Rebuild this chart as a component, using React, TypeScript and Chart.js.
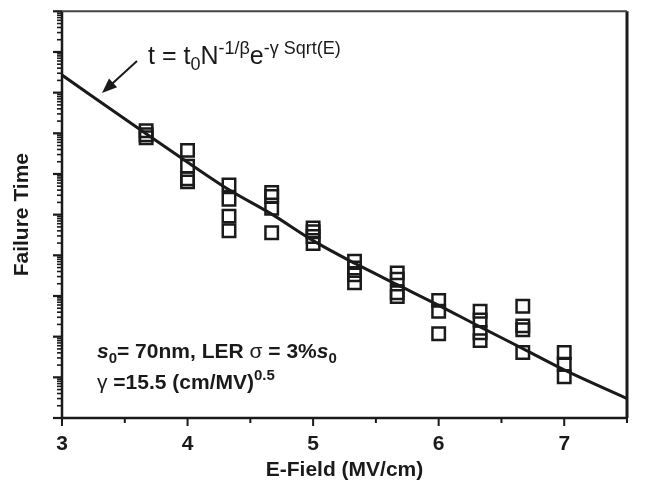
import React, { useEffect, useRef } from "react";
import { Chart, registerables } from "chart.js";

Chart.register(...registerables);

// E-field columns (MV/cm) of measured failures
const fieldCols = [3.67, 4, 4.33, 4.67, 5, 5.33, 5.67, 6, 6.33, 6.67, 7];
// Failure times measured at each column (arbitrary units, log axis)
const failureTimes: number[][] = [
  [1.15e7, 9.2e6, 7.8e6],
  [3.8e6, 1.56e6, 7.6e5, 6.4e5],
  [5.4e5, 2.4e5, 9.2e4, 4.0e4],
  [3.5e5, 2.8e5, 1.44e5, 3.6e4],
  [4.7e4, 3.8e4, 2.9e4, 1.95e4],
  [7.2e3, 4.9e3, 3.3e3, 2.1e3],
  [3.7e3, 2.6e3, 1.2e3, 970],
  [780, 420, 118],
  [420, 257, 125, 80],
  [560, 184, 148, 41],
  [41, 21, 10.3],
];
// Model curve t = t0 N^(-1/beta) e^(-gamma sqrt(E))
const fitField = [3, 3.67, 4, 4.33, 4.67, 5, 5.33, 5.67, 6, 6.33, 6.67, 7, 7.5];
const fitTime = [2.7e8, 9.7e6, 1.95e6, 4.1e5, 1.03e5, 2.3e4, 6.4e3, 1.9e3, 590, 174, 51, 15.2, 3.0];
const xMajorTicks = [3, 4, 5, 6, 7];
const xMinorTicks = [3.5, 4.5, 5.5, 6.5, 7.5];
const yDecades = [0, 1, 2, 3, 4, 5, 6, 7, 8, 9, 10];

const FONT = 'Arial, "Liberation Sans", Helvetica, sans-serif';
const INK = "#1a1a1a";

type Run = { t: string; size: number; bold?: boolean; italic?: boolean; dy?: number };

function drawRuns(ctx: CanvasRenderingContext2D, runs: Run[], x: number, y: number) {
  let cx = x;
  for (const r of runs) {
    ctx.font = `${r.italic ? "italic " : ""}${r.bold ? "bold " : ""}${r.size}px ${FONT}`;
    ctx.fillText(r.t, cx, y + (r.dy || 0));
    cx += ctx.measureText(r.t).width;
  }
}

const decorPlugin = {
  id: "decor",
  afterDraw(chart: any) {
    const { ctx, chartArea } = chart;
    const { left, right, top, bottom } = chartArea;
    const xs = chart.scales.x;
    const ys = chart.scales.y;
    ctx.save();
    ctx.strokeStyle = INK;
    ctx.lineCap = "butt";

    // y ticks (log)
    for (const d of yDecades) {
      for (let m = 1; m <= 9; m++) {
        const v = m * Math.pow(10, d);
        if (v > 1e10 + 1) break;
        const py = ys.getPixelForValue(v);
        ctx.lineWidth = m === 1 ? 2.2 : 1.6;
        ctx.beginPath();
        ctx.moveTo(left - (m === 1 ? 9 : 5), py);
        ctx.lineTo(left, py);
        ctx.stroke();
      }
    }
    // x ticks
    ctx.lineWidth = 2;
    for (const v of xMajorTicks) {
      const px = xs.getPixelForValue(v);
      ctx.beginPath();
      ctx.moveTo(px, bottom);
      ctx.lineTo(px, bottom + 8);
      ctx.stroke();
    }
    for (const v of xMinorTicks) {
      const px = xs.getPixelForValue(v);
      ctx.beginPath();
      ctx.moveTo(px, bottom);
      ctx.lineTo(px, bottom + 5);
      ctx.stroke();
    }

    // frame
    ctx.lineWidth = 2.5;
    ctx.beginPath();
    ctx.moveTo(left, top);
    ctx.lineTo(left, bottom);
    ctx.lineTo(right, bottom);
    ctx.stroke();
    ctx.lineWidth = 3;
    ctx.beginPath();
    ctx.moveTo(right, top);
    ctx.lineTo(right, bottom);
    ctx.stroke();
    ctx.strokeStyle = "#444";
    ctx.lineWidth = 2;
    ctx.beginPath();
    ctx.moveTo(left, top);
    ctx.lineTo(right, top);
    ctx.stroke();

    // formula
    ctx.fillStyle = INK;
    ctx.textBaseline = "alphabetic";
    ctx.textAlign = "left";
    drawRuns(
      ctx,
      [
        { t: "t = t", size: 25 },
        { t: "0", size: 18, dy: 6 },
        { t: "N", size: 25 },
        { t: "-1/β", size: 18, dy: -10 },
        { t: "e", size: 25 },
        { t: "-γ Sqrt(E)", size: 18, dy: -10 },
      ],
      148,
      64
    );

    // arrow
    const x1 = 137, y1 = 61, x2 = 102, y2 = 93;
    const ang = Math.atan2(y2 - y1, x2 - x1);
    ctx.strokeStyle = INK;
    ctx.lineWidth = 2;
    ctx.beginPath();
    ctx.moveTo(x1, y1);
    ctx.lineTo(x2 - 10 * Math.cos(ang), y2 - 10 * Math.sin(ang));
    ctx.stroke();
    ctx.beginPath();
    ctx.moveTo(x2, y2);
    ctx.lineTo(x2 - 15 * Math.cos(ang) + 6 * Math.sin(ang), y2 - 15 * Math.sin(ang) - 6 * Math.cos(ang));
    ctx.lineTo(x2 - 15 * Math.cos(ang) - 6 * Math.sin(ang), y2 - 15 * Math.sin(ang) + 6 * Math.cos(ang));
    ctx.closePath();
    ctx.fill();

    // annotation
    drawRuns(
      ctx,
      [
        { t: "s", size: 21, bold: true, italic: true },
        { t: "0", size: 15, bold: true, dy: 5 },
        { t: "= 70nm, LER ", size: 21, bold: true },
        { t: "σ", size: 21 },
        { t: " = 3%", size: 21, bold: true },
        { t: "s", size: 21, bold: true, italic: true },
        { t: "0", size: 15, bold: true, dy: 5 },
      ],
      97,
      358
    );
    drawRuns(
      ctx,
      [
        { t: "γ", size: 21 },
        { t: " =15.5 (cm/MV)", size: 21, bold: true },
        { t: "0.5", size: 15, bold: true, dy: -9 },
      ],
      97,
      389
    );
    ctx.restore();
  },
};

export default function App() {
  const ref = useRef<HTMLCanvasElement | null>(null);
  useEffect(() => {
    if (!ref.current) return;
    const points: { x: number; y: number }[] = [];
    fieldCols.forEach((x, i) => failureTimes[i].forEach((y) => points.push({ x, y })));
    const chart = new Chart(ref.current, {
      type: "scatter",
      data: {
        datasets: [
          {
            type: "line",
            data: fitField.map((x, i) => ({ x, y: fitTime[i] })),
            borderColor: INK,
            borderWidth: 3,
            pointRadius: 0,
            cubicInterpolationMode: "monotone",
            fill: false,
          } as any,
          {
            data: points,
            pointStyle: "rect",
            pointRadius: 8.8,
            pointBorderWidth: 2.5,
            pointBorderColor: INK,
            pointBackgroundColor: "rgba(0,0,0,0)",
            borderColor: INK,
            backgroundColor: "rgba(0,0,0,0)",
          } as any,
        ],
      },
      options: {
        responsive: false,
        animation: false,
        layout: { padding: { top: 3, right: 20, left: 0, bottom: 0 } },
        plugins: { legend: { display: false }, tooltip: { enabled: false } },
        scales: {
          x: {
            type: "linear",
            min: 3,
            max: 7.5,
            afterFit: (s: any) => {
              s.height = 75;
            },
            grid: { display: false, drawTicks: false },
            border: { display: false },
            ticks: {
              stepSize: 0.5,
              autoSkip: false,
              maxRotation: 0,
              padding: 14,
              color: INK,
              font: { family: FONT, size: 21, weight: "bold" },
              callback: (v: any) => (xMajorTicks.includes(Number(v)) ? String(v) : ""),
            },
            title: {
              display: true,
              text: "E-Field (MV/cm)",
              color: INK,
              font: { family: FONT, size: 21, weight: "bold" },
              padding: { top: 0, bottom: 10 },
            },
          },
          y: {
            type: "logarithmic",
            min: 1,
            max: 1e10,
            afterFit: (s: any) => {
              s.width = 62;
            },
            grid: { display: false, drawTicks: false },
            border: { display: false },
            ticks: { display: false },
            title: {
              display: true,
              text: "Failure Time",
              color: INK,
              font: { family: FONT, size: 21, weight: "bold" },
              padding: { top: 10, bottom: 0 },
            },
          },
        },
      } as any,
      plugins: [decorPlugin],
    });
    return () => chart.destroy();
  }, []);
  return (
    <div style={{ position: "absolute", left: 0, top: 0, width: 647, height: 493, background: "#fff" }}>
      <canvas ref={ref} width={647} height={493} />
    </div>
  );
}
